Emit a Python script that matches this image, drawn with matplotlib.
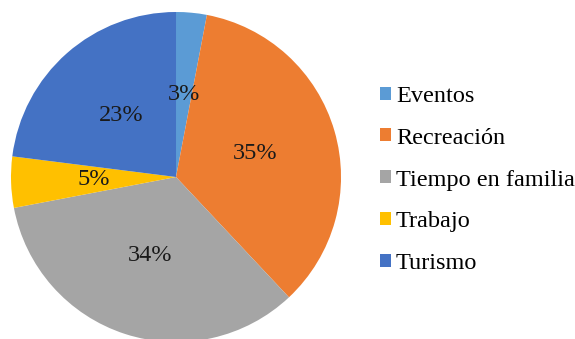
import matplotlib
matplotlib.use("Agg")
import matplotlib.pyplot as plt
from matplotlib.patches import Patch

# Data
categories = ["Eventos", "Recreación", "Tiempo en familia", "Trabajo", "Turismo"]
shares = [3, 35, 34, 5, 23]
colors = ["#5B9BD5", "#ED7D31", "#A5A5A5", "#FFC000", "#4472C4"]

plt.rcParams["font.family"] = ["Liberation Serif", "DejaVu Serif"]

fig = plt.figure(figsize=(5.75, 3.39), dpi=100)
ax = fig.add_axes([0.0191, -0.0089, 0.574, 0.9735])

ax.pie(shares, colors=colors, startangle=90, counterclock=False,
       autopct="%1.0f%%", pctdistance=0.5, radius=1.0,
       wedgeprops=dict(linewidth=0),
       textprops=dict(fontsize=17.5, color="#1a1a1a"))
ax.set_xlim(-1, 1)
ax.set_ylim(-1, 1)
ax.set_aspect("equal")
ax.axis("off")

handles = [Patch(facecolor=c, edgecolor="none") for c in colors]
fig.legend(handles, categories, loc="center left",
           bbox_to_anchor=(380 / 575, 1 - 180 / 339), frameon=False,
           fontsize=17.5, handlelength=0.45, handleheight=0.45,
           handletextpad=0.2, labelspacing=0.86, borderpad=0, borderaxespad=0)

fig.savefig("out.png", dpi=100)
